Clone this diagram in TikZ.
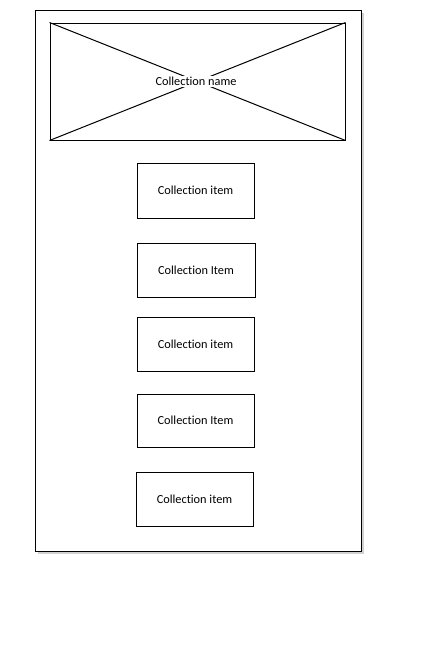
\documentclass[tikz,border=0pt]{standalone}
\usepackage{fontspec}
\setmainfont[Ligatures=NoCommon]{Carlito}
\usepackage{tikz}
\usetikzlibrary{shadows}

\tikzset{
  itembox/.style={draw, line width=1pt, minimum width=117pt, minimum height=54pt, font=\fontsize{12.3}{14}\selectfont},
  crosslabel/.style={fill=white, inner sep=1.5pt, font=\fontsize{12.3}{14}\selectfont}
}

\begin{document}
\begin{tikzpicture}[x=1pt, y=-1pt, line width=1pt]
                \useasboundingbox (0,0) rectangle (425,651);
                % page frame
                \draw[fill=white, drop shadow={opacity=0.3, fill=black!60, shadow xshift=2.5pt, shadow yshift=-2.5pt}] (35,10) rectangle (361,551);

                % header placeholder
                \node[draw, minimum width=295pt, minimum height=117pt] (header) at (197.5,81.5) {};
                \draw (header.north west) -- (header.south east);
                \draw (header.south west) -- (header.north east);
                \node[crosslabel] (headerlabel) at (196,81.5) {Collection name};

                % items
                \node[itembox, minimum height=55pt] (item1) at (195.5,190.5) {Collection item};
                \node[itembox, minimum width=118pt] (item2) at (196,270) {Collection Item};
                \node[itembox] (item3) at (195.5,344) {Collection item};
                \node[itembox, minimum height=53pt] (item4) at (195.5,420.5) {Collection Item};
                \node[itembox] (item5) at (194.5,499) {Collection item};
\end{tikzpicture}
\end{document}
